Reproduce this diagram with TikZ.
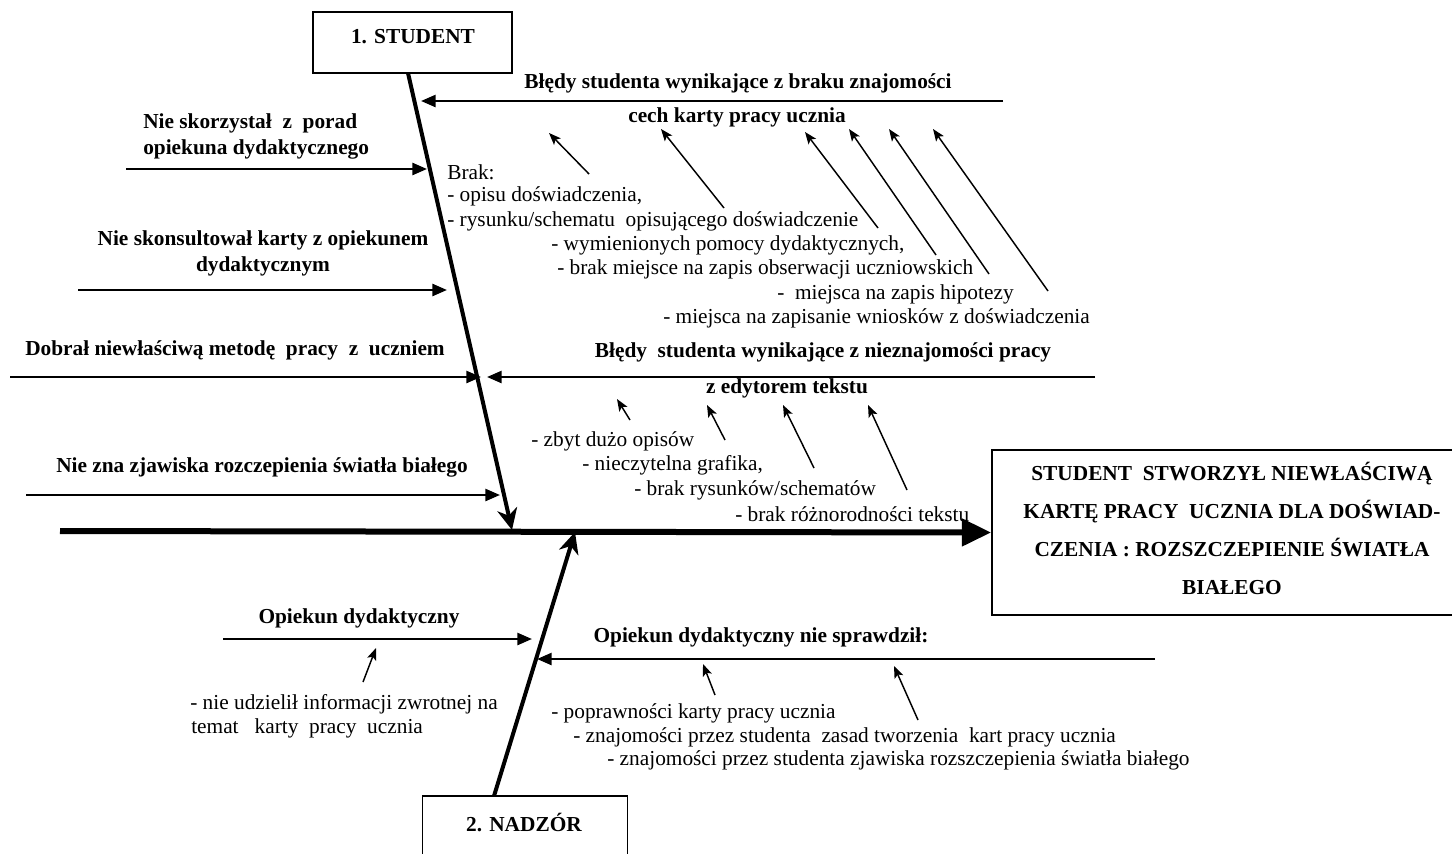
\documentclass[tikz,border=0pt]{standalone}
\usepackage{fontspec}
\setmainfont{Liberation Serif}
\usetikzlibrary{arrows.meta}
\begin{document}
\begin{tikzpicture}[x=0.75pt,y=-0.75pt,
 every node/.style={inner sep=0pt,font=\fontsize{16}{19.5}\selectfont},
 hd/.style={font=\fontsize{16}{19.5}\selectfont\bfseries},
 lt/.style={anchor=west},
 box/.style={draw,line width=1.3pt},
 branch/.style={line width=1.9pt,-{Triangle[length=11pt,width=9pt]}},
 small/.style={line width=1.1pt,-{Stealth[length=9pt,width=7pt,inset=2pt]}},
 spine/.style={line width=3pt,-{Stealth[length=16pt,width=15pt,inset=5pt]}},
 mainarr/.style={line width=4.5pt,-{Triangle[length=22pt,width=20pt]}}]
\useasboundingbox (0,0) rectangle (1452,853);

% ---------- boxes ----------
\node[box,minimum width=149.25pt,minimum height=45.75pt] (stud) at (412.5,42.5) {};
\node[hd] (studt) at (413,37) {1. STUDENT};
\node[box,minimum width=153.75pt,minimum height=55.5pt] (nad) at (525,833) {};
\node[hd] (nadt) at (524,822) {2. NADZÓR};
\node[box,minimum width=360pt,minimum height=123.75pt] (res) at (1232,532.5) {};
\node[align=center,font=\fontsize{16}{28.3}\selectfont\bfseries] (rest) at (1232,528.5)
  {STUDENT\ \ STWORZYŁ NIEWŁAŚCIWĄ\\KARTĘ PRACY\ \ UCZNIA DLA DOŚWIAD-\\CZENIA : ROZSZCZEPIENIE ŚWIATŁA\\BIAŁEGO};

% ---------- main spine ----------
\coordinate (m0) at (60,531);
\draw[mainarr] (m0) -- (res.west);

% ---------- student spine ----------
\coordinate (s0) at (408,73);
\coordinate (s1) at (512,530);
\draw[spine] (s0) -- (s1);

% ---------- nadzor spine ----------
\coordinate (n0) at (494,796);
\coordinate (n1) at (575,532);
\draw[spine] (n0) -- (n1);

% ---------- top right branch ----------
\node[hd] (b1a) at (738,83) {Błędy studenta wynikające z braku znajomości};
\node[hd] (b1b) at (737,117) {cech karty pracy ucznia};
\coordinate (b1s) at (1003,101);
\coordinate (b1e) at (421,101);
\draw[branch] (b1s) -- (b1e);

\node[lt] (br0) at (447,172) {Brak:};
\node[lt] (br1) at (447,196) {- opisu doświadczenia,};
\node[lt] (br2) at (447,221) {- rysunku/schematu\ \ opisującego doświadczenie};
\node[lt] (br3) at (551,245) {- wymienionych pomocy dydaktycznych,};
\node[lt] (br4) at (557,269) {- brak miejsce na zapis obserwacji uczniowskich};
\node[lt] (br5) at (777,294) {-\ \ miejsca na zapis hipotezy};
\node[lt] (br6) at (663,318) {- miejsca na zapisanie wniosków z doświadczenia};

\coordinate (u1t) at (589,174); \coordinate (u1h) at (549,133);
\coordinate (u2t) at (724,208); \coordinate (u2h) at (661,129);
\coordinate (u3t) at (878,228); \coordinate (u3h) at (805,132);
\coordinate (u4t) at (936,255); \coordinate (u4h) at (849,129);
\coordinate (u5t) at (989,274); \coordinate (u5h) at (889,129);
\coordinate (u6t) at (1048,291); \coordinate (u6h) at (933,129);
\foreach \i in {1,...,6} \draw[small] (u\i t) -- (u\i h);

% ---------- top left branches ----------
\node[hd,lt] (l1a) at (143,123) {Nie skorzystał\ \ z\ \ porad};
\node[hd,lt] (l1b) at (143,149) {opiekuna dydaktycznego};
\coordinate (l1s) at (126,169); \coordinate (l1e) at (427,169);
\draw[branch] (l1s) -- (l1e);

\node[hd,align=center] (l2) at (263,253) {Nie skonsultował karty z opiekunem\\dydaktycznym};
\coordinate (l2s) at (78,290); \coordinate (l2e) at (447,290);
\draw[branch] (l2s) -- (l2e);

\node[hd,lt] (l3) at (25,350) {Dobrał niewłaściwą metodę\ \ pracy\ \ z\ \ uczniem};
\coordinate (l3s) at (10,377); \coordinate (l3e) at (481,377);
\draw[branch] (l3s) -- (l3e);

\node[hd,lt] (l4) at (56,467) {Nie zna zjawiska rozczepienia światła białego};
\coordinate (l4s) at (26,495); \coordinate (l4e) at (500,495);
\draw[branch] (l4s) -- (l4e);

% ---------- middle right branch ----------
\node[hd] (b2a) at (823,352) {Błędy\ \ studenta wynikające z nieznajomości pracy};
\node[hd] (b2b) at (787,388) {z edytorem tekstu};
\coordinate (b2s) at (1095,377); \coordinate (b2e) at (487,377);
\draw[branch] (b2s) -- (b2e);

\node[lt] (e1) at (531,441) {- zbyt dużo opisów};
\node[lt] (e2) at (582,465) {- nieczytelna grafika,};
\node[lt] (e3) at (634,490) {- brak rysunków/schematów};
\node[lt] (e4) at (735,514) {- brak różnorodności tekstu};

\coordinate (v1t) at (630,420); \coordinate (v1h) at (617,399);
\coordinate (v2t) at (725,440); \coordinate (v2h) at (707,405);
\coordinate (v3t) at (814,468); \coordinate (v3h) at (783,405);
\coordinate (v4t) at (907,490); \coordinate (v4h) at (868,405);
\foreach \i in {1,...,4} \draw[small] (v\i t) -- (v\i h);

% ---------- bottom left branch ----------
\node[hd] (o1) at (359,618) {Opiekun dydaktyczny};
\coordinate (o1s) at (223,639); \coordinate (o1e) at (532,639);
\draw[branch] (o1s) -- (o1e);
\coordinate (w1t) at (363,682); \coordinate (w1h) at (376,648);
\draw[small] (w1t) -- (w1h);
\node[lt] (o1a) at (190,704) {- nie udzielił informacji zwrotnej na};
\node[lt] (o1b) at (191,728) {temat\ \ \ karty\ \ pracy\ \ ucznia};

% ---------- bottom right branch ----------
\node[hd] (o2) at (761,637) {Opiekun dydaktyczny nie sprawdził:};
\coordinate (o2s) at (1155,659); \coordinate (o2e) at (537,659);
\draw[branch] (o2s) -- (o2e);
\coordinate (w2t) at (715,695); \coordinate (w2h) at (703,664);
\coordinate (w3t) at (918,720); \coordinate (w3h) at (894,666);
\draw[small] (w2t) -- (w2h);
\draw[small] (w3t) -- (w3h);
\node[lt] (p1) at (551,713) {- poprawności karty pracy ucznia};
\node[lt] (p2) at (573,737) {- znajomości przez studenta\ \ zasad tworzenia\ \ kart pracy ucznia};
\node[lt] (p3) at (607,760) {- znajomości przez studenta zjawiska rozszczepienia światła białego};
\end{tikzpicture}
\end{document}
